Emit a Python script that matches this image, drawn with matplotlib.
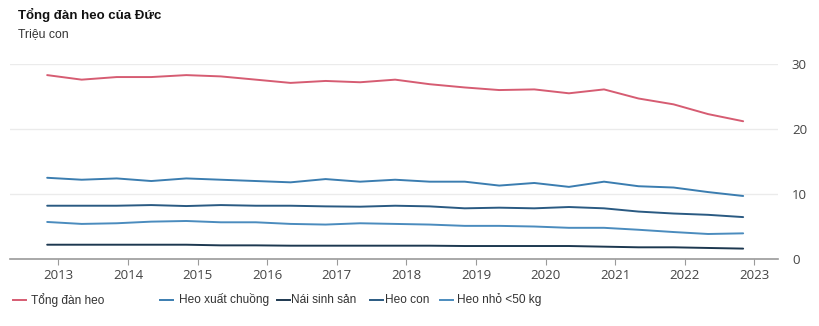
import pandas as pd
import matplotlib
matplotlib.use("Agg")
import matplotlib.pyplot as plt
from matplotlib.lines import Line2D

# Số liệu điều tra tháng 5 và tháng 11 mỗi năm (triệu con)
ngay = ["2012-11-03", "2013-05-03", "2013-11-03", "2014-05-03", "2014-11-03",
        "2015-05-03", "2015-11-03", "2016-05-03", "2016-11-03", "2017-05-03",
        "2017-11-03", "2018-05-03", "2018-11-03", "2019-05-03", "2019-11-03",
        "2020-05-03", "2020-11-03", "2021-05-03", "2021-11-03", "2022-05-03",
        "2022-11-03"]

tong_dan = [28.3, 27.6, 28.0, 28.0, 28.3, 28.1, 27.6, 27.1, 27.4, 27.2,
            27.6, 26.9, 26.4, 26.0, 26.1, 25.5, 26.1, 24.7, 23.8, 22.3, 21.2]
xuat_chuong = [12.5, 12.2, 12.4, 12.0, 12.4, 12.2, 12.0, 11.8, 12.3, 11.9,
               12.2, 11.9, 11.9, 11.3, 11.7, 11.1, 11.9, 11.2, 11.0, 10.3, 9.7]
nai = [2.2, 2.2, 2.2, 2.2, 2.2, 2.1, 2.1, 2.05, 2.05, 2.05,
       2.05, 2.05, 2.0, 2.0, 2.0, 2.0, 1.9, 1.8, 1.8, 1.7, 1.6]
heo_con = [8.2, 8.2, 8.2, 8.3, 8.15, 8.3, 8.2, 8.2, 8.1, 8.05,
           8.2, 8.1, 7.8, 7.9, 7.8, 8.0, 7.8, 7.3, 7.0, 6.8, 6.45]
heo_nho = [5.7, 5.4, 5.5, 5.75, 5.85, 5.65, 5.65, 5.4, 5.3, 5.5,
           5.4, 5.3, 5.1, 5.1, 5.0, 4.8, 4.8, 4.5, 4.15, 3.85, 3.95]

nam = [str(y) for y in range(2013, 2024)]

x = pd.to_datetime(ngay)

fig = plt.figure(figsize=(8.2, 3.26), dpi=100)
ax = fig.add_axes([0.0122, 0.2055, 0.9366, 0.598])

chuoi = [
    ("Tổng đàn heo", tong_dan, "#d65c72"),
    ("Heo xuất chuồng", xuat_chuong, "#3b7db0"),
    ("Nái sinh sản", nai, "#1d3850"),
    ("Heo con", heo_con, "#2a5a82"),
    ("Heo nhỏ <50 kg", heo_nho, "#4b8cbe"),
]
for ten, y, mau in chuoi:
    ax.plot(x, y, color=mau, lw=1.4, solid_capstyle="round")

ax.set_ylim(0, 30)
ax.set_yticks([0, 10, 20, 30])
ax.yaxis.tick_right()
ax.set_xlim(pd.Timestamp("2012-04-22"), pd.Timestamp("2023-05-05"))
ax.set_xticks(pd.to_datetime([n + "-01-01" for n in nam]))
ax.set_xticklabels(nam)

ax.grid(axis="y", color="#ebebeb", lw=1)
ax.set_axisbelow(True)
for s in ["top", "right", "left"]:
    ax.spines[s].set_visible(False)
ax.spines["bottom"].set_color("#9a9a9a")
ax.spines["bottom"].set_linewidth(1.2)
ax.tick_params(axis="x", length=4, color="#9a9a9a", labelsize=9.5,
               labelcolor="#444444", pad=3)
ax.tick_params(axis="y", length=0, labelsize=9.5, labelcolor="#444444", pad=10)
for lb in ax.get_xticklabels() + ax.get_yticklabels():
    lb.set_family("Open Sans")

fig.text(0.022, 0.955, "Tổng đàn heo của Đức", fontsize=9.5, fontweight="bold",
         family="Liberation Sans", color="#111111", va="center")
fig.text(0.022, 0.895, "Triệu con", fontsize=8.8, family="Liberation Sans",
         color="#333333", va="center")

# chú thích: mục đầu đứng riêng, các mục còn lại xếp thành hàng
mau_x = [0.016, 0.195, 0.338, 0.451, 0.537]
chu_x = [0.038, 0.218, 0.355, 0.470, 0.557]
for (ten, y, mau), mx, cx in zip(chuoi, mau_x, chu_x):
    fig.add_artist(Line2D([mx, mx + 0.016], [0.08, 0.08], color=mau, lw=1.4))
    fig.text(cx, 0.08, ten, fontsize=8.6, family="Liberation Sans",
             color="#333333", va="center")

fig.savefig("out.png", dpi=100)
